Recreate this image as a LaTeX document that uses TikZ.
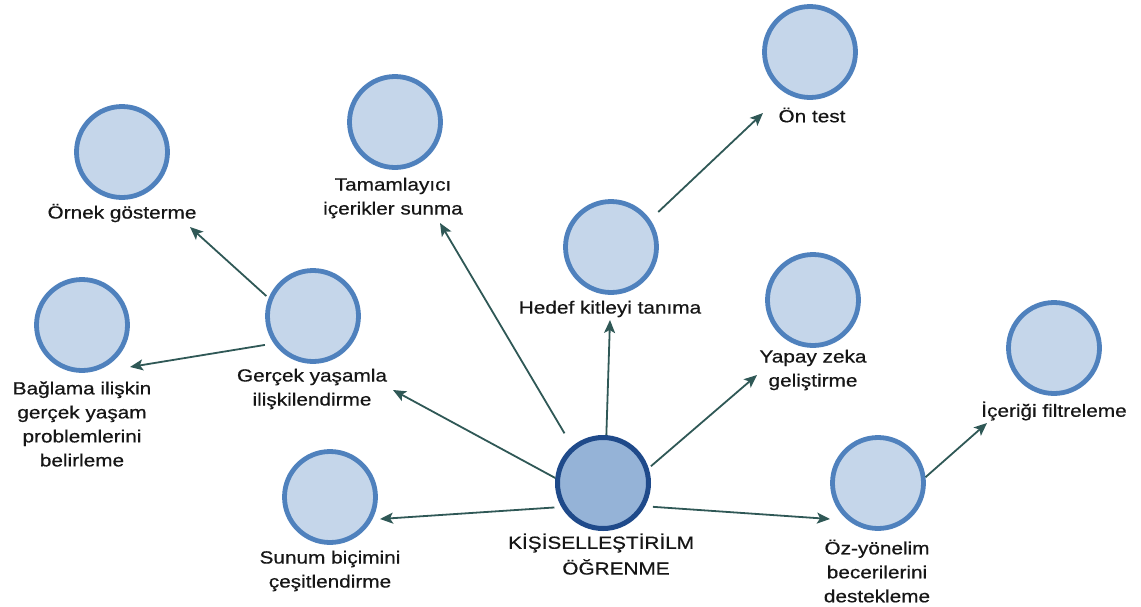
\documentclass[tikz,border=0pt]{standalone}
\usepackage{fontspec}
\setmainfont{Liberation Sans}[FakeStretch=1.18,FakeBold=0.6]
\usetikzlibrary{arrows.meta}
\definecolor{nodefill}{HTML}{C5D6EA}
\definecolor{nodeline}{HTML}{4F81BD}
\definecolor{corefill}{HTML}{95B3D7}
\definecolor{coreline}{HTML}{1F4A8A}
\definecolor{linkcol}{HTML}{2F5856}
\definecolor{txt}{HTML}{161616}

\begin{document}
\begin{tikzpicture}[x=1pt,y=-1pt,
  topic/.style={circle, draw=nodeline, fill=nodefill, line width=4.8pt, minimum size=91pt, inner sep=0pt},
  core/.style={topic, draw=coreline, fill=corefill, line width=5pt},
  lbl/.style={font=\fontsize{17.6}{24}\selectfont, text=txt, align=center, inner sep=0pt},
  link/.style={draw=linkcol, line width=1.8pt, -{Stealth[length=13pt,width=11pt,inset=3pt]}},
]
\useasboundingbox (0,0) rectangle (1141,606);

% topic circles
\node[core]  (cen) at (603,483) {};
\node[topic] (orn) at (122,152) {};
\node[topic] (tam) at (395,122) {};
\node[topic] (hed) at (611,247) {};
\node[topic] (ont) at (810,52) {};
\node[topic] (yap) at (813,300) {};
\node[topic] (ice) at (1054,348) {};
\node[topic] (oz)  at (878,483) {};
\node[topic] (ger) at (313,316) {};
\node[topic] (bag) at (82,325) {};
\node[topic] (sun) at (330,497) {};

% labels
\node[lbl, anchor=west] (cenl1) at (508,543) {KİŞİSELLEŞTİRİLM};
\node[lbl] (cenl2) at (616,567) {ÖĞRENME};
\node[lbl] (ornl) at (122,213) {Örnek gösterme};
\node[lbl] (taml) at (393,198) {Tamamlayıcı\\içerikler sunma};
\node[lbl] (hedl) at (610,309) {Hedef kitleyi tanıma};
\node[lbl] (ontl) at (812,115) {Ön test};
\node[lbl] (yapl) at (813,370) {Yapay zeka\\geliştirme};
\node[lbl] (icel) at (1054,411) {İçeriği filtreleme};
\node[lbl] (ozl)  at (877,571) {Öz-yönelim\\becerilerini\\destekleme};
\node[lbl] (gerl) at (312,389) {Gerçek yaşamla\\ilişkilendirme};
\node[lbl] (bagl) at (82,424) {Bağlama ilişkin\\gerçek yaşam\\problemlerini\\belirleme};
\node[lbl] (sunl) at (330,571) {Sunum biçimini\\çeşitlendirme};

% arrow targets beside the labels
\coordinate (t-tam) at (440,223);
\coordinate (t-ger) at (393,390);
\coordinate (t-sun) at (380,519);
\coordinate (t-hed) at (610,320);
\coordinate (t-yap) at (757,375);
\coordinate (t-oz)  at (830,519);
\coordinate (t-ont) at (763,113);
\coordinate (t-ice) at (987,423);
\coordinate (t-bag) at (130,367);
\coordinate (t-orn) at (190,227);

% connectors
\draw[link, shorten <=15pt] (cen.130) -- (t-tam);
\draw[link] (cen.174) -- (t-ger);
\draw[link, shorten <=7pt] (cen.210) -- (t-sun);
\draw[link] (cen.86) -- (t-hed);
\draw[link, shorten <=3pt] (cen.18) -- (t-yap);
\draw[link, shorten <=8pt] (cen.331) -- (t-oz);
\draw[link, shorten <=11pt] (hed.35) -- (t-ont);
\draw[link] (oz.7) -- (t-ice);
\draw[link, shorten <=9pt] (ger.215) -- (t-bag);
\draw[link, shorten <=3pt] (ger.158) -- (t-orn);
\end{tikzpicture}
\end{document}
